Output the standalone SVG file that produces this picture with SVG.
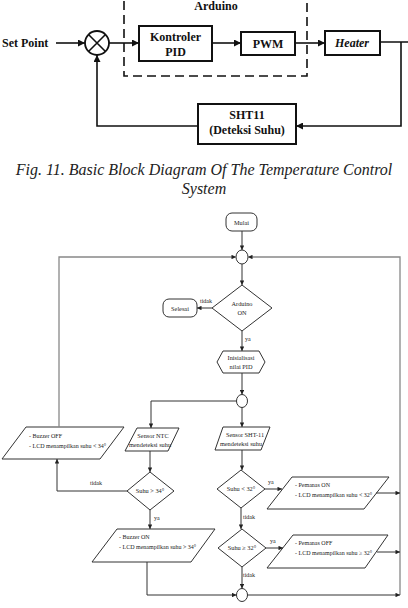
<svg xmlns="http://www.w3.org/2000/svg" width="408" height="608" viewBox="0 0 408 608">
<style>
.bx{fill:#fff;stroke:#111;stroke-width:2}
.ln{fill:none;stroke:#111;stroke-width:1.6}
.bt{font-family:'Liberation Serif','Times New Roman','DejaVu Serif',serif;font-weight:bold;font-size:12px;fill:#111;text-anchor:middle}
.cap{font-family:'Liberation Serif','Times New Roman','DejaVu Serif',serif;font-style:italic;font-size:16px;fill:#222;text-anchor:middle}
.fs{fill:#fff;stroke:#333;stroke-width:1}
.fl{fill:none;stroke:#333;stroke-width:1}
.lp{fill:none;stroke:#888;stroke-width:1.3}
.ft{font-family:'Liberation Serif','Times New Roman','DejaVu Serif',serif;font-size:6.3px;fill:#222;text-anchor:middle}
.fL{font-family:'Liberation Serif','Times New Roman','DejaVu Serif',serif;font-size:6px;fill:#222;text-anchor:start}
</style>
<defs>
<marker id="a" viewBox="0 0 10 10" refX="10" refY="5" markerWidth="8" markerHeight="7" markerUnits="userSpaceOnUse" orient="auto"><path d="M0,0L10,5L0,10z" fill="#111"/></marker>
<marker id="f" viewBox="0 0 10 10" refX="10" refY="5" markerWidth="5" markerHeight="4.5" markerUnits="userSpaceOnUse" orient="auto"><path d="M0,0L10,5L0,10z" fill="#222"/></marker>
</defs>
<rect width="408" height="608" fill="#fff"/>

<!-- Block diagram -->
<g id="arduino"><rect x="124" y="-10" width="183" height="86" fill="none" stroke="#111" stroke-width="1.6" stroke-dasharray="9,5"/><text class="bt" x="216" y="10">Arduino</text></g>
<g id="setpoint"><text class="bt" x="2" y="47" style="text-anchor:start">Set Point</text></g>
<g id="sum"><circle cx="97" cy="43" r="12" fill="#fff" stroke="#111" stroke-width="1.8"/><path d="M88.5,34.5L105.5,51.5M105.5,34.5L88.5,51.5" stroke="#111" stroke-width="1.6"/></g>
<g id="pid"><rect class="bx" x="139" y="26" width="73" height="35"/><text class="bt" x="175.5" y="41">Kontroler</text><text class="bt" x="175.5" y="56">PID</text></g>
<g id="pwm"><rect class="bx" x="241" y="32" width="54" height="23"/><text class="bt" x="268" y="48">PWM</text></g>
<g id="heater"><rect class="bx" x="325" y="31" width="55" height="24"/><text class="bt" x="352" y="47" style="font-style:italic">Heater</text></g>
<g id="sht11"><rect class="bx" x="198" y="104" width="98" height="40"/><text class="bt" x="247" y="119">SHT11</text><text class="bt" x="247" y="134">(Deteksi Suhu)</text></g>
<g id="bd-connectors">
<path class="ln" d="M56,43H85" marker-end="url(#a)"/>
<path class="ln" d="M109,43H139" marker-end="url(#a)"/>
<path class="ln" d="M212,43H241" marker-end="url(#a)"/>
<path class="ln" d="M295,43H325" marker-end="url(#a)"/>
<path class="ln" d="M380,42H408M401,42V126H296" marker-end="url(#a)"/>
<path class="ln" d="M198,126H97V55" marker-end="url(#a)"/>
</g>
<g id="caption"><text class="cap" x="204" y="175">Fig. 11. Basic Block Diagram Of The Temperature Control</text><text class="cap" x="204" y="194">System</text></g>

<!-- Flowchart -->
<g id="mulai"><rect class="fs" x="226" y="213" width="31" height="18" rx="6"/><text class="ft" x="241.5" y="224.5">Mulai</text></g>
<g id="c1"><ellipse class="fs" cx="242" cy="257" rx="6" ry="7"/></g>
<g id="arduino-on"><path class="fs" d="M242,285L272,308L242,331L212,308z"/><text class="ft" x="242" y="306">Arduino</text><text class="ft" x="242" y="315">ON</text></g>
<g id="selesai"><rect class="fs" x="163" y="299" width="34" height="18" rx="6"/><text class="ft" x="180" y="310.5">Selesai</text></g>
<g id="init"><path class="fs" d="M223,351H259L265,362L259,373H223L217,362z"/><text class="ft" x="241" y="360">Inisialisasi</text><text class="ft" x="241" y="369">nilai PID</text></g>
<g id="c2"><ellipse class="fs" cx="242" cy="401" rx="5.5" ry="6.5"/></g>
<g id="ntc"><path class="fs" d="M137,428H179L168,451H125z"/><text class="ft" x="153" y="438">Sensor NTC</text><text class="ft" x="150" y="447">mendeteksi suhu</text></g>
<g id="sht"><path class="fs" d="M223,427H270L261,450H215z"/><text class="ft" x="245" y="437">Sensor SHT-11</text><text class="ft" x="241" y="446">mendeteksi suhu</text></g>
<g id="buzzoff"><path class="fs" d="M26,427H124L100,459H2z"/><text class="fL" x="29" y="438">- Buzzer OFF</text><text class="fL" x="29" y="447.5">- LCD menampilkan suhu &lt; 34°</text></g>
<g id="d34"><path class="fs" d="M150,472L174,491L150,510L127,491z"/><text class="ft" x="150" y="493">Suhu &gt; 34°</text></g>
<g id="buzzon"><path class="fs" d="M117,529H215L191,562H92z"/><text class="fL" x="119" y="539">- Buzzer ON</text><text class="fL" x="119" y="548.5">- LCD menampilkan suhu &gt; 34°</text></g>
<g id="d32a"><path class="fs" d="M241,470L265,489L241,508L217,489z"/><text class="ft" x="241" y="491">Suhu &lt; 32°</text></g>
<g id="pemon"><path class="fs" d="M292,477H389L364,509H267z"/><text class="fL" x="295" y="487">- Pemanas ON</text><text class="fL" x="295" y="496.5">- LCD menampilkan suhu &lt; 32°</text></g>
<g id="d32b"><path class="fs" d="M242,529L266,548L242,567L218,548z"/><text class="ft" x="242" y="550">Suhu ≥ 32°</text></g>
<g id="pemoff"><path class="fs" d="M293,535H388L365,568H267z"/><text class="fL" x="295" y="545">- Pemanas OFF</text><text class="fL" x="295" y="554.5">- LCD menampilkan suhu ≥ 32°</text></g>
<g id="c3"><ellipse class="fs" cx="242" cy="595" rx="5.5" ry="6.5"/></g>

<g id="fc-connectors">
<path class="fl" d="M242,231V250" marker-end="url(#f)"/>
<path class="lp" d="M59,427V257H236" marker-end="url(#f)"/>
<path class="lp" d="M400,595V257H248" marker-end="url(#f)"/>
<path class="fl" d="M242,264V285" marker-end="url(#f)"/>
<path class="fl" d="M212,308H197" marker-end="url(#f)"/>
<path class="fl" d="M242,331V351" marker-end="url(#f)"/>
<path class="fl" d="M242,373V394.5" marker-end="url(#f)"/>
<path class="fl" d="M242,407.5V427" marker-end="url(#f)"/>
<path class="fl" d="M236.5,401H151V428" marker-end="url(#f)"/>
<path class="fl" d="M150,451V472" marker-end="url(#f)"/>
<path class="fl" d="M127,491H57V459" marker-end="url(#f)"/>
<path class="fl" d="M150,510V529" marker-end="url(#f)"/>
<path class="fl" d="M147,562V595H236.5" marker-end="url(#f)"/>
<path class="fl" d="M242,450V470" marker-end="url(#f)"/>
<path class="fl" d="M265,489H282" marker-end="url(#f)"/>
<path class="fl" d="M376,493H400" marker-end="url(#f)"/>
<path class="fl" d="M241,508V529" marker-end="url(#f)"/>
<path class="fl" d="M266,548H283" marker-end="url(#f)"/>
<path class="fl" d="M377,552H400" marker-end="url(#f)"/>
<path class="fl" d="M242,567V588.5" marker-end="url(#f)"/>
<path class="fl" d="M247.5,595H400" marker-end="url(#f)"/>
<text class="fL" x="200" y="303">tidak</text>
<text class="fL" x="245" y="341">ya</text>
<text class="fL" x="90" y="485">tidak</text>
<text class="fL" x="154" y="520">ya</text>
<text class="fL" x="268" y="484">ya</text>
<text class="fL" x="243" y="519">tidak</text>
<text class="fL" x="270" y="543">ya</text>
<text class="fL" x="243" y="577">tidak</text>
</g>
</svg>
